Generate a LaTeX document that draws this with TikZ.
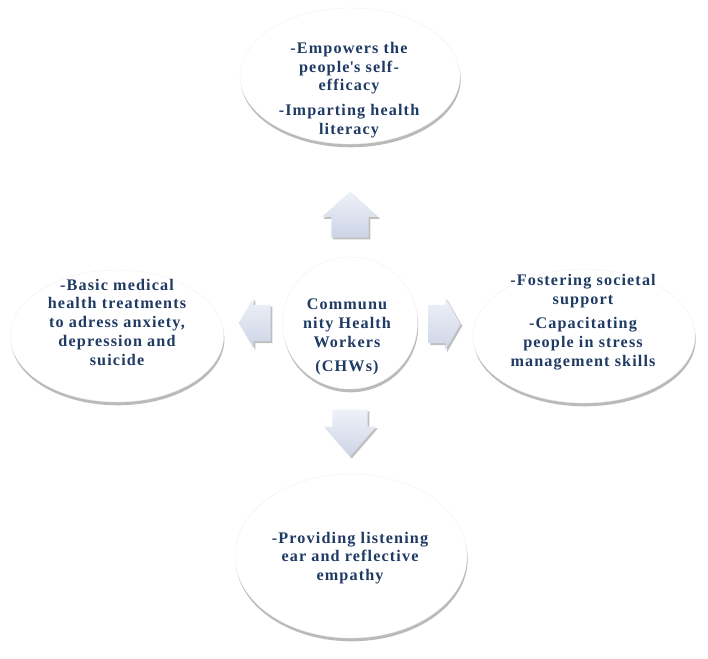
\documentclass[tikz,border=0pt]{standalone}
\usepackage{fontspec}
\setmainfont{Liberation Serif}
\usetikzlibrary{shapes.geometric,shapes.arrows,shadows}
\definecolor{txtblue}{HTML}{1F3A63}
\definecolor{arrowtop}{HTML}{EEF1F8}
\definecolor{arrowbot}{HTML}{CDD4E6}
\tikzset{
  bubble/.style={ellipse,inner sep=0pt,fill=white,draw=gray!12,line width=0.3pt,
    drop shadow={shadow xshift=0.6pt,shadow yshift=-2.8pt,opacity=0.6,fill=gray!90}},
  txt/.style={text=txtblue,align=center,inner sep=0pt,
    font=\bfseries\addfontfeatures{LetterSpace=7}\fontsize{13.8}{16}\selectfont},
  blockarrow/.style={single arrow,draw=none,
    top color=arrowtop,bottom color=arrowbot,
    drop shadow={shadow xshift=1.5pt,shadow yshift=-1.5pt,opacity=0.5,fill=gray}},
}
\begin{document}
\begin{tikzpicture}[x=0.03cm,y=-0.03cm]
  \useasboundingbox (0,0) rectangle (708,658);
  % bubbles
  \node[bubble,minimum width=6.6cm,minimum height=4.08cm] (empower) at (350,76) {};
  \node[bubble,minimum width=6.4cm,minimum height=3.96cm] (treat) at (117,336) {};
  \node[bubble,minimum width=4.05cm,minimum height=3.96cm] (chw) at (350,323) {};
  \node[bubble,minimum width=6.66cm,minimum height=4.02cm] (foster) at (584,336) {};
  \node[bubble,minimum width=6.96cm,minimum height=4.92cm] (listen) at (351,556) {};
  % texts
  \node[txt] (empower-txt) at (349,90)
    {-Empowers the\\people\textquotesingle s self-\\efficacy\\[5pt]-Imparting health\\literacy};
  \node[txt] (treat-txt) at (117,322)
    {-Basic medical\\health treatments\\to adress anxiety,\\depression and\\suicide};
  \node[txt] (chw-txt) at (347,337)
    {Communu\\nity Health\\Workers\\[5pt](CHWs)};
  \node[txt] (foster-txt) at (583,322)
    {-Fostering societal\\support\\[5pt]-Capacitating\\people in stress\\management skills};
  \node[txt] (listen-txt) at (350,558)
    {-Providing listening\\ear and reflective\\empathy};
  % arrows
  \node[blockarrow,shape border rotate=90,minimum height=1.38cm,inner xsep=0.555cm,inner ysep=0pt,
    single arrow head extend=0.285cm,single arrow tip angle=96] (up) at (350,223) {};
  \node[blockarrow,shape border rotate=270,minimum height=1.41cm,inner xsep=0.525cm,inner ysep=0pt,
    single arrow head extend=0.255cm,single arrow tip angle=82] (down) at (350,423) {};
  \node[blockarrow,shape border rotate=180,minimum height=0.96cm,inner xsep=0pt,inner ysep=0.54cm,
    single arrow head extend=0.21cm,single arrow tip angle=118] (left) at (260,323) {};
  \node[blockarrow,minimum height=0.96cm,inner xsep=0pt,inner ysep=0.57cm,
    single arrow head extend=0.21cm,single arrow tip angle=120] (right) at (439,324) {};
\end{tikzpicture}
\end{document}
